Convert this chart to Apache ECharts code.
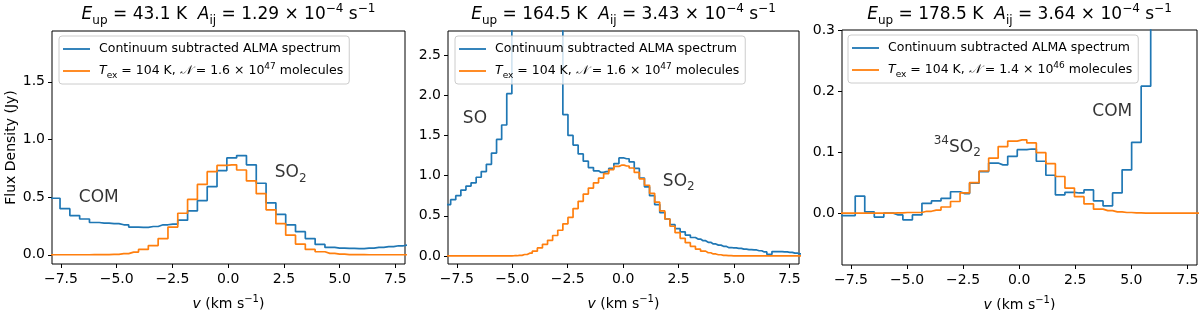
<!DOCTYPE html>
<html><head><meta charset="utf-8">
<script src="https://cdn.jsdelivr.net/npm/echarts@6/dist/echarts.min.js"></script>
<style>html,body{margin:0;padding:0;background:#fff}#c{width:1200px;height:310px}</style>
</head><body><div id="c"></div>
<script>
// ---------------- DATA ----------------
const xTicks = [-7.5, -5.0, -2.5, 0.0, 2.5, 5.0, 7.5];
const yTicks1 = [0.0, 0.5, 1.0, 1.5];
const yTicks2 = [0.0, 0.5, 1.0, 1.5, 2.0, 2.5];
const yTicks3 = [0.0, 0.1, 0.2, 0.3];

// Panel 1 : E_up = 43.1 K
const vel1 = [-8.20,-7.76,-7.32,-6.88,-6.44,-6.00,-5.56,-5.12,-4.68,-4.24,-3.80,-3.36,-2.92,-2.48,-2.04,-1.60,-1.16,-0.72,-0.28,0.16,0.60,1.04,1.48,1.92,2.36,2.80,3.24,3.68,4.12,4.56,5.00,5.44,5.88,6.32,6.76,7.20,7.64,8.08];
const obs1 = [0.55,0.49,0.40,0.34,0.31,0.28,0.275,0.27,0.26,0.24,0.237,0.245,0.26,0.266,0.30,0.38,0.47,0.59,0.73,0.84,0.86,0.78,0.62,0.45,0.35,0.26,0.20,0.14,0.09,0.064,0.058,0.055,0.054,0.058,0.064,0.07,0.078,0.085];
const mod1 = [0,0,0,0,0,0.001,0.002,0.004,0.01,0.023,0.046,0.08,0.14,0.24,0.36,0.48,0.61,0.72,0.775,0.78,0.735,0.64,0.53,0.39,0.27,0.17,0.093,0.046,0.026,0.012,0.005,0.002,0.001,0,0,0,0,0];

// Panel 2 : E_up = 164.5 K
const vel2 = [-8.125,-7.895,-7.665,-7.435,-7.205,-6.975,-6.745,-6.515,-6.285,-6.055,-5.825,-5.595,-5.365,-5.135,-4.905,-4.675,-4.445,-4.215,-3.985,-3.755,-3.525,-3.295,-3.065,-2.835,-2.605,-2.375,-2.145,-1.915,-1.685,-1.455,-1.225,-0.995,-0.765,-0.535,-0.305,-0.075,0.155,0.385,0.615,0.845,1.075,1.305,1.535,1.765,1.995,2.225,2.455,2.685,2.915,3.145,3.375,3.605,3.835,4.065,4.295,4.525,4.755,4.985,5.215,5.445,5.675,5.905,6.135,6.365,6.595,6.825,7.055,7.285,7.515,7.745,7.975,8.205];
const obs2 = [0.60,0.64,0.70,0.75,0.82,0.87,0.91,0.98,1.05,1.14,1.28,1.45,1.63,2.02,3.3,4.5,5.6,6.2,6.0,5.3,4.4,3.7,3.2,2.9,1.76,1.50,1.38,1.27,1.18,1.10,1.06,1.04,1.05,1.09,1.15,1.22,1.21,1.17,1.09,0.97,0.86,0.75,0.64,0.54,0.46,0.39,0.34,0.30,0.26,0.23,0.21,0.19,0.17,0.15,0.135,0.12,0.105,0.10,0.095,0.085,0.08,0.075,0.065,0.05,0.02,0.055,0.055,0.05,0.045,0.035,0.025,0.02];
const mod2 = [0,0,0,0,0,0,0,0,0,0,0,0,0,0,0.003,0.008,0.018,0.035,0.06,0.10,0.145,0.195,0.255,0.32,0.40,0.48,0.59,0.68,0.77,0.845,0.91,0.97,1.025,1.075,1.115,1.13,1.12,1.095,1.04,0.96,0.88,0.78,0.67,0.56,0.46,0.37,0.29,0.22,0.165,0.12,0.085,0.06,0.04,0.025,0.015,0.008,0.004,0.002,0.001,0,0,0,0,0,0,0,0,0,0,0,0,0];

// Panel 3 : E_up = 178.5 K
const vel3 = [-8.373,-7.948,-7.523,-7.098,-6.673,-6.248,-5.823,-5.398,-4.973,-4.548,-4.123,-3.698,-3.273,-2.848,-2.423,-1.998,-1.573,-1.148,-0.723,-0.298,0.128,0.553,0.978,1.403,1.828,2.253,2.678,3.103,3.528,3.953,4.378,4.803,5.228,5.653,6.078,6.503,6.928,7.353,7.778,8.203];
const obs3 = [-0.004,-0.004,-0.004,0.028,0.002,-0.0065,0.0,-0.003,-0.011,-0.003,0.016,0.020,0.024,0.035,0.032,0.049,0.068,0.082,0.079,0.093,0.104,0.105,0.085,0.062,0.030,0.034,0.033,0.038,0.020,0.012,0.033,0.071,0.116,0.208,0.45,0.70,0.85,0.80,0.70,0.60];
const mod3 = [0,0,0,0,0,0,0,0.0005,0.001,0.001,0.003,0.005,0.01,0.019,0.033,0.05,0.069,0.09,0.109,0.118,0.120,0.115,0.099,0.081,0.060,0.041,0.027,0.015,0.0065,0.004,0.002,0.001,0.0005,0,0,0,0,0,0,0];

const titles = [
  '{i|E}{sub|up} = 43.1 K  {i|A}{sub|ij} = 1.29 × 10{sup|−4} s{sup|−1}',
  '{i|E}{sub|up} = 164.5 K  {i|A}{sub|ij} = 3.43 × 10{sup|−4} s{sup|−1}',
  '{i|E}{sub|up} = 178.5 K  {i|A}{sub|ij} = 3.64 × 10{sup|−4} s{sup|−1}'
];
const obsName = 'Continuum subtracted ALMA spectrum';
const modelNames = ['model1', 'model2', 'model3'];
const modelLabels = [
  '{i|T}{sub|ex} = 104 K, {cal|𝒩} = 1.6 × 10{sup|47} molecules',
  '{i|T}{sub|ex} = 104 K, {cal|𝒩} = 1.6 × 10{sup|47} molecules',
  '{i|T}{sub|ex} = 104 K, {cal|𝒩} = 1.4 × 10{sup|46} molecules'
];
// annotation texts and their anchor (left edge, vertical centre) in data units
const annText1 = ['COM', 'SO{sub|2}'];
const annVel1 = [-6.70, 2.09];
const annFlux1 = [0.50, 0.71];
const annText2 = ['SO', 'SO{sub|2}'];
const annVel2 = [-7.23, 1.79];
const annFlux2 = [1.71, 0.93];
const annText3 = ['{sup|34}SO{sub|2}', 'COM'];
const annVel3 = [-3.81, 3.26];
const annFlux3 = [0.108, 0.166];

// ---------------- LAYOUT / STYLE ----------------
const FONT = 'DejaVu Sans';
const BLUE = '#1f77b4', ORANGE = '#ff7f0e';
const panels = [
  {grid:{left:52, top:31, width:353, height:233}, ymin:-0.08, ymax:1.94, yt:yTicks1, vel:vel1, obs:obs1, mod:mod1, at:annText1, av:annVel1, af:annFlux1, legend:{left:59, top:36}},
  {grid:{left:448, top:31, width:351, height:233}, ymin:-0.10, ymax:2.80, yt:yTicks2, vel:vel2, obs:obs2, mod:mod2, at:annText2, av:annVel2, af:annFlux2, legend:{left:455, top:36}},
  {grid:{left:842, top:30, width:355, height:235}, ymin:-0.085, ymax:0.30, yt:yTicks3, vel:vel3, obs:obs3, mod:mod3, at:annText3, av:annVel3, af:annFlux3, legend:{left:848, top:35}}
];
const fmt = v => (v < 0 ? '−' : '') + Math.abs(v).toFixed(1);

const titleRich = {
  i: {fontStyle:'italic', fontSize:17, lineHeight:24, fontFamily:FONT, color:'#000'},
  sub: {fontSize:12, lineHeight:12, verticalAlign:'bottom', fontFamily:FONT, color:'#000'},
  sup: {fontSize:12, lineHeight:12, verticalAlign:'top', fontFamily:FONT, color:'#000'}
};
const legRich = {
  i: {fontStyle:'italic', fontSize:12.5, lineHeight:18, fontFamily:FONT, color:'#000'},
  cal: {fontStyle:'italic', fontSize:12.5, lineHeight:18, fontFamily:FONT, color:'#000'},
  sub: {fontSize:9, lineHeight:9, verticalAlign:'bottom', fontFamily:FONT, color:'#000'},
  sup: {fontSize:9, lineHeight:9, verticalAlign:'top', fontFamily:FONT, color:'#000'}
};
const annRich = {
  sub: {fontSize:12, lineHeight:12, verticalAlign:'bottom', fontFamily:FONT, color:'#000'},
  sup: {fontSize:12, lineHeight:12, verticalAlign:'top', fontFamily:FONT, color:'#000'}
};

const option = {
  animation:false,
  backgroundColor:'#fff',
  title:[], legend:[], grid:[], xAxis:[], yAxis:[], series:[]
};

panels.forEach((p, k) => {
  option.grid.push(Object.assign({show:true, borderColor:'#000', borderWidth:1, backgroundColor:'transparent',
    containLabel:false, outerBoundsMode:'none'}, p.grid));
  const cx = p.grid.left + p.grid.width / 2;
  option.title.push({
    text: titles[k], left: cx, top: 3, textAlign:'center', padding:0,
    textStyle:{fontFamily:FONT, fontSize:17, fontWeight:'normal', color:'#000', lineHeight:24, rich:titleRich}
  });
  option.xAxis.push({
    type:'value', gridIndex:k, min:-7.9, max:7.93,
    name:'{i|v} (km s{sup|−1})', nameLocation:'middle', nameGap:30,
    nameTextStyle:{fontFamily:FONT, fontSize:14, color:'#000', lineHeight:20,
      rich:{i:{fontStyle:'italic', fontSize:14, lineHeight:20, fontFamily:FONT, color:'#000'},
            sup:{fontSize:10, lineHeight:10, verticalAlign:'top', fontFamily:FONT, color:'#000'}}},
    axisLine:{show:false, onZero:false},
    axisTick:{show:true, length:4, lineStyle:{color:'#000', width:1}, customValues:xTicks},
    axisLabel:{fontFamily:FONT, fontSize:14, color:'#000', margin:8, formatter:fmt, customValues:xTicks},
    splitLine:{show:false}
  });
  option.yAxis.push({
    type:'value', gridIndex:k, min:p.ymin, max:p.ymax,
    name: k === 0 ? 'Flux Density (Jy)' : '', nameLocation:'middle', nameGap:34,
    nameTextStyle:{fontFamily:FONT, fontSize:14, color:'#000'},
    axisLine:{show:false, onZero:false},
    axisTick:{show:true, length:4, lineStyle:{color:'#000', width:1}, customValues:p.yt},
    axisLabel:{fontFamily:FONT, fontSize:14, color:'#000', margin:7, formatter:fmt, customValues:p.yt},
    splitLine:{show:false}
  });
  option.legend.push({
    left:p.legend.left, top:p.legend.top, orient:'vertical',
    data:[obsName, modelNames[k]], icon:'rect', itemWidth:27, itemHeight:1.8, itemGap:4,
    padding:[4,6,4,4], backgroundColor:'rgba(255,255,255,0.8)', borderColor:'#cccccc', borderWidth:1, borderRadius:3,
    selectedMode:false,
    formatter: n => n === obsName ? obsName : modelLabels[k],
    textStyle:{fontFamily:FONT, fontSize:12.5, color:'#000', lineHeight:18, padding:[0,0,0,4], rich:legRich}
  });
  option.series.push({
    name:obsName, type:'line', step:'middle', xAxisIndex:k, yAxisIndex:k, showSymbol:false, symbol:'none',
    color:BLUE, lineStyle:{color:BLUE, width:1.7}, clip:true,
    data:p.vel.map((v, j) => [v, p.obs[j]])
  });
  option.series.push({
    name:modelNames[k], type:'line', step:'middle', xAxisIndex:k, yAxisIndex:k, showSymbol:false, symbol:'none',
    color:ORANGE, lineStyle:{color:ORANGE, width:1.7}, clip:true,
    data:p.vel.map((v, j) => [v, p.mod[j]])
  });
  option.series.push({
    type:'scatter', xAxisIndex:k, yAxisIndex:k, symbolSize:0, silent:true, z:5,
    data:p.at.map((t, j) => ({value:[p.av[j], p.af[j]], name:t})),
    label:{show:true, position:[0,0], align:'left', verticalAlign:'middle',
      formatter: q => q.name, fontFamily:FONT, fontSize:17, color:'#000', lineHeight:24, rich:annRich}
  });
});

const chart = echarts.init(document.getElementById('c'), null, {renderer:'canvas'});
chart.setOption(option);
</script></body></html>
